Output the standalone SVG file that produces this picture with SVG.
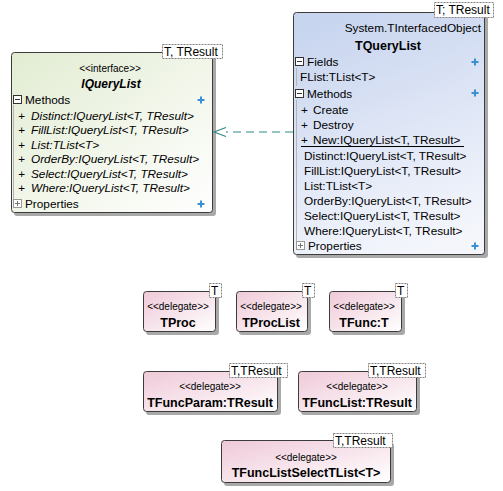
<svg xmlns="http://www.w3.org/2000/svg" width="503" height="491" viewBox="0 0 503 491">
<defs>
<linearGradient id="gGreen" x1="0" y1="0" x2="1" y2="1"><stop offset="0" stop-color="#e2ecd2"/><stop offset="1" stop-color="#ffffff"/></linearGradient>
<linearGradient id="gBlue" x1="0.3" y1="0" x2="0.6" y2="1"><stop offset="0" stop-color="#c8d5ef"/><stop offset="1" stop-color="#f4f6fc"/></linearGradient>
<linearGradient id="gPink" x1="0" y1="0" x2="1" y2="1"><stop offset="0" stop-color="#efc9d8"/><stop offset="1" stop-color="#ffffff"/></linearGradient>
<g id="plus"><path d="M-3.5,0H3.5M0,-3.5V3.5" stroke="#3b8fd3" stroke-width="2"/></g>
<g id="minusBox"><rect x="0.5" y="0.5" width="8" height="8" fill="#fff" stroke="#333" stroke-width="1"/><path d="M2,4.5H7" stroke="#333"/></g>
<g id="plusBox"><rect x="0.5" y="0.5" width="8" height="8" fill="#fff" stroke="#999" stroke-width="1"/><path d="M2,4.5H7M4.5,2V7" stroke="#777"/></g>
</defs>
<style>
text{font-family:"Liberation Sans",Arial,sans-serif;fill:#000}
.shadow{fill:#a9a9a9}
.box{stroke:#3c3c3c;stroke-width:1}
.tpl{fill:#fff;stroke:#808080;stroke-width:1;stroke-dasharray:2,1}
.tplt{font-size:12px}
.ster{font-size:10px}
.m{font-size:11.8px}
.mi{font-size:11.8px;font-style:italic}
.nm{font-size:12.5px;font-weight:bold}
.tree{stroke:#b5b5b5;stroke-width:1;fill:none}
.conn{stroke:#2f8a80;stroke-width:1.2;fill:none}
</style>

<g id="IQueryList">
<rect class="shadow" x="14" y="55" width="202" height="161" rx="3"/>
<rect class="box" x="11.5" y="52.5" width="201" height="160" rx="3" fill="url(#gGreen)"/>
<rect class="tpl" x="162.5" y="44.5" width="60" height="14"/>
<text class="tplt" x="164" y="56">T, TResult</text>
<text class="ster" x="110" y="72" text-anchor="middle">&lt;&lt;interface&gt;&gt;</text>
<text x="111" y="88" text-anchor="middle" font-size="12px" font-weight="bold" font-style="italic">IQueryList</text>
<use href="#minusBox" x="13" y="95"/>
<text class="m" x="25" y="104">Methods</text>
<use href="#plus" x="201" y="100"/>
<path class="tree" d="M13.5,105V203"/>
<text class="mi" x="18" y="120">+</text><text class="mi" x="31" y="120">Distinct:IQueryList&lt;T, TResult&gt;</text>
<text class="mi" x="18" y="134">+</text><text class="mi" x="31" y="134">FillList:IQueryList&lt;T, TResult&gt;</text>
<text class="mi" x="18" y="149">+</text><text class="mi" x="31" y="149">List:TList&lt;T&gt;</text>
<text class="mi" x="18" y="163">+</text><text class="mi" x="31" y="163">OrderBy:IQueryList&lt;T, TResult&gt;</text>
<text class="mi" x="18" y="178">+</text><text class="mi" x="31" y="178">Select:IQueryList&lt;T, TResult&gt;</text>
<text class="mi" x="18" y="192">+</text><text class="mi" x="31" y="192">Where:IQueryList&lt;T, TResult&gt;</text>
<use href="#plusBox" x="13" y="199"/>
<text class="m" x="25" y="208">Properties</text>
<use href="#plus" x="201" y="204"/>
</g>

<g id="TQueryList">
<rect class="shadow" x="296" y="15" width="192" height="243" rx="3"/>
<rect class="box" x="293.5" y="12.5" width="191" height="242" rx="3" fill="url(#gBlue)"/>
<rect class="tpl" x="434.5" y="2.5" width="59" height="15"/>
<text class="tplt" x="436" y="14">T; TResult</text>
<text class="m" x="481" y="32" text-anchor="end">System.TInterfacedObject</text>
<text x="388" y="50" text-anchor="middle" font-size="12.5px" font-weight="bold">TQueryList</text>
<use href="#minusBox" x="295" y="57"/>
<text class="m" x="307" y="66">Fields</text>
<use href="#plus" x="475" y="62"/>
<path class="tree" d="M296.5,68V86"/>
<text class="m" x="300" y="81">FList:TList&lt;T&gt;</text>
<use href="#minusBox" x="295" y="89"/>
<text class="m" x="307" y="98">Methods</text>
<use href="#plus" x="475" y="93"/>
<path class="tree" d="M296.5,100V242"/>
<text class="m" x="301" y="114">+</text><text class="m" x="313" y="114">Create</text>
<text class="m" x="301" y="129">+</text><text class="m" x="313" y="129">Destroy</text>
<text class="m" x="301" y="144">+</text><text class="m" x="313" y="144">New:IQueryList&lt;T, TResult&gt;</text>
<path d="M301,146.5H464" stroke="#000" stroke-width="1"/>
<text class="m" x="304" y="160">Distinct:IQueryList&lt;T, TResult&gt;</text>
<text class="m" x="304" y="175">FillList:IQueryList&lt;T, TResult&gt;</text>
<text class="m" x="304" y="190">List:TList&lt;T&gt;</text>
<text class="m" x="304" y="205">OrderBy:IQueryList&lt;T, TResult&gt;</text>
<text class="m" x="304" y="220">Select:IQueryList&lt;T, TResult&gt;</text>
<text class="m" x="304" y="235">Where:IQueryList&lt;T, TResult&gt;</text>
<use href="#plusBox" x="296" y="241"/>
<text class="m" x="308" y="250">Properties</text>
<use href="#plus" x="475" y="246"/>
</g>

<g id="connectors">
<path class="conn" d="M293,132H226" stroke-dasharray="8,5"/>
<path class="conn" d="M226,127.5L214,132L226,136.5"/>
</g>

<g id="TProc">
<rect class="shadow" x="146" y="294" width="73" height="41" rx="3"/>
<rect class="box" x="143.5" y="291.5" width="72" height="40" rx="3" fill="url(#gPink)"/>
<rect class="tpl" x="209.5" y="283.5" width="12" height="14"/>
<text class="tplt" x="211" y="295">T</text>
<text class="ster" x="178" y="310" text-anchor="middle">&lt;&lt;delegate&gt;&gt;</text>
<text class="nm" x="178" y="327" text-anchor="middle">TProc</text>
</g>

<g id="TProcList">
<rect class="shadow" x="239" y="294" width="72" height="41" rx="3"/>
<rect class="box" x="236.5" y="291.5" width="71" height="40" rx="3" fill="url(#gPink)"/>
<rect class="tpl" x="302.5" y="283.5" width="12" height="14"/>
<text class="tplt" x="304" y="295">T</text>
<text class="ster" x="271" y="310" text-anchor="middle">&lt;&lt;delegate&gt;&gt;</text>
<text class="nm" x="271" y="327" text-anchor="middle">TProcList</text>
</g>

<g id="TFuncT">
<rect class="shadow" x="332" y="294" width="73" height="41" rx="3"/>
<rect class="box" x="329.5" y="291.5" width="72" height="40" rx="3" fill="url(#gPink)"/>
<rect class="tpl" x="395.5" y="283.5" width="12" height="14"/>
<text class="tplt" x="397" y="295">T</text>
<text class="ster" x="364" y="310" text-anchor="middle">&lt;&lt;delegate&gt;&gt;</text>
<text class="nm" x="364" y="327" text-anchor="middle">TFunc:T</text>
</g>

<g id="TFuncParam">
<rect class="shadow" x="146" y="374" width="135" height="41" rx="3"/>
<rect class="box" x="143.5" y="371.5" width="134" height="40" rx="3" fill="url(#gPink)"/>
<rect class="tpl" x="229.5" y="363.5" width="58" height="14"/>
<text class="tplt" x="231" y="375">T,TResult</text>
<text class="ster" x="210" y="390" text-anchor="middle">&lt;&lt;delegate&gt;&gt;</text>
<text class="nm" x="210" y="407" text-anchor="middle">TFuncParam:TResult</text>
</g>

<g id="TFuncList">
<rect class="shadow" x="301" y="374" width="119" height="41" rx="3"/>
<rect class="box" x="298.5" y="371.5" width="118" height="40" rx="3" fill="url(#gPink)"/>
<rect class="tpl" x="368.5" y="363.5" width="57" height="14"/>
<text class="tplt" x="370" y="375">T,TResult</text>
<text class="ster" x="357" y="390" text-anchor="middle">&lt;&lt;delegate&gt;&gt;</text>
<text class="nm" x="357" y="407" text-anchor="middle">TFuncList:TResult</text>
</g>

<g id="TFuncListSelectTList">
<rect class="shadow" x="224" y="443" width="170" height="43" rx="3"/>
<rect class="box" x="221.5" y="440.5" width="169" height="42" rx="3" fill="url(#gPink)"/>
<rect class="tpl" x="333.5" y="433.5" width="59" height="14"/>
<text class="tplt" x="335" y="445">T,TResult</text>
<text class="ster" x="306" y="461" text-anchor="middle">&lt;&lt;delegate&gt;&gt;</text>
<text class="nm" x="306" y="477" text-anchor="middle">TFuncListSelectTList&lt;T&gt;</text>
</g>
</svg>
